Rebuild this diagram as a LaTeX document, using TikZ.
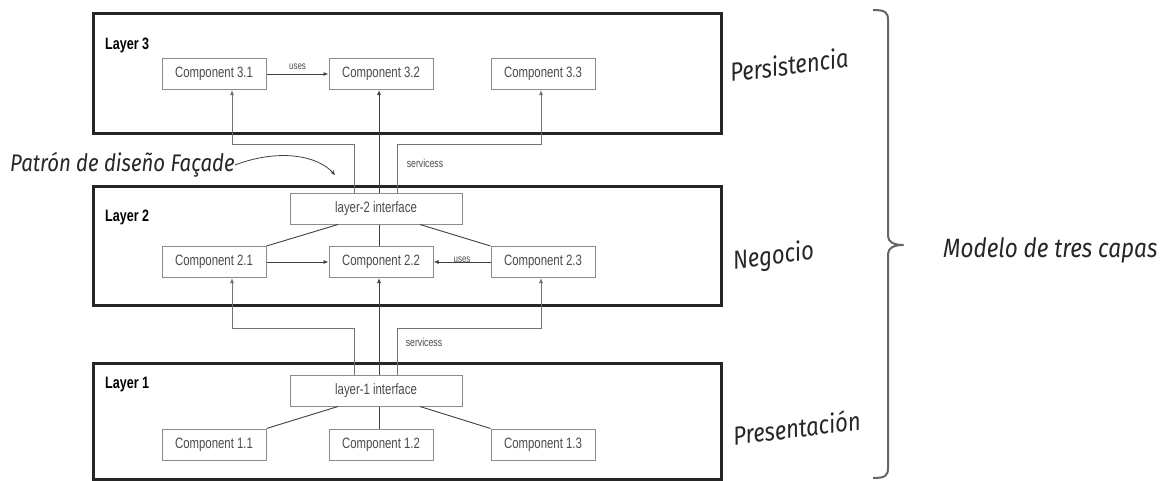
\documentclass[tikz,border=0pt]{standalone}
\usepackage{fontspec}
\setmainfont{Liberation Sans}
\newfontfamily\narrowfont[FakeStretch=0.76]{Liberation Sans}
\newfontfamily\handfont[FakeStretch=0.85]{Fira Sans}
\usetikzlibrary{arrows.meta}
\begin{document}
\begin{tikzpicture}[x=1pt,y=-1pt,
  layerbox/.style={draw=black!85, line width=3pt, inner sep=0pt},
  layername/.style={font=\narrowfont\bfseries\fontsize{16.5}{18}\selectfont, anchor=west, inner sep=0pt},
  comp/.style={draw=black!45, line width=1pt, fill=white, minimum width=104pt, minimum height=31pt,
    inner sep=0pt, text=black!70, font=\narrowfont\fontsize{15}{17}\selectfont},
  iface/.style={comp, minimum width=172pt},
  conn/.style={draw=black!75, line width=0.9pt},
  thinconn/.style={draw=black!55, line width=0.8pt},
  arr/.style={-{Latex[length=5pt,width=4pt]}},
  lbl/.style={font=\narrowfont\fontsize{11.5}{13}\selectfont, text=black!70, inner sep=1pt},
  hand/.style={font=\handfont\itshape\fontsize{26}{30}\selectfont, text=black!85, inner sep=0pt}
]
\useasboundingbox (0,0) rectangle (1168,480);
\fill[white] (0,0) rectangle (1168,480);

% layer frames
\node[layerbox, minimum width=628pt, minimum height=120pt] (L3) at (407,73) {};
\node[layerbox, minimum width=628pt, minimum height=119pt] (L2) at (407,245.5) {};
\node[layerbox, minimum width=628pt, minimum height=116pt] (L1) at (407,421) {};
\node[layername] (n3) at (105,45) {Layer 3};
\node[layername] (n2) at (105,217) {Layer 2};
\node[layername] (n1) at (105,385) {Layer 1};

% layer 3 components
\node[comp] (c31) at (214,74) {Component 3.1};
\node[comp] (c32) at (381,74) {Component 3.2};
\node[comp] (c33) at (543,74) {Component 3.3};

% layer 2
\node[iface] (i2) at (376,208.5) {layer-2 interface};
\node[comp] (c21) at (214,262) {Component 2.1};
\node[comp] (c22) at (381,262) {Component 2.2};
\node[comp] (c23) at (543,262) {Component 2.3};

% layer 1
\node[iface] (i1) at (376,390.5) {layer-1 interface};
\node[comp] (c11) at (214,444.5) {Component 1.1};
\node[comp] (c12) at (381,444.5) {Component 1.2};
\node[comp] (c13) at (543,444.5) {Component 1.3};

% junction points of the service branches
\coordinate (j3l) at (232,144);
\coordinate (j3r) at (541,144);
\coordinate (j2l) at (232,328);
\coordinate (j2r) at (541,328);

% layer 2 interface serving layer 3
\draw[thinconn, arr] ([xshift=-22pt]i2.north) |- (j3l) -- (j3l |- c31.south);
\draw[conn, arr] ([xshift=3pt]i2.north) -- ([xshift=-2pt]c32.south);
\draw[thinconn, arr] ([xshift=21pt]i2.north) |- (j3r) -- (j3r |- c33.south);
\node[lbl] (s3) at (425,163) {servicess};

% layer 1 interface serving layer 2
\draw[thinconn, arr] ([xshift=-22pt]i1.north) |- (j2l) -- (j2l |- c21.south);
\draw[conn, arr] ([xshift=3pt]i1.north) -- ([xshift=-2pt]c22.south);
\draw[thinconn, arr] ([xshift=21pt]i1.north) |- (j2r) -- (j2r |- c23.south);
\node[lbl] (s2) at (424,342) {servicess};

% uses relations
\draw[conn, arr] (c31) -- node[lbl, above=3pt, font=\narrowfont\fontsize{10.5}{12}\selectfont] {uses} (c32);
\draw[conn, arr] (c21) -- (c22);
\draw[conn, arr] (c23) -- node[lbl, above=-2pt, font=\narrowfont\fontsize{10.5}{12}\selectfont] {uses} (c22);

% interface to its own components
\draw[conn] ([xshift=-38pt]i2.south) -- (c21.north east);
\draw[conn] ([xshift=3pt]i2.south) -- ([xshift=-2pt]c22.north);
\draw[conn] ([xshift=44pt]i2.south) -- (c23.north west);
\draw[conn] ([xshift=-38pt]i1.south) -- (c11.north east);
\draw[conn] ([xshift=3pt]i1.south) -- ([xshift=-2pt]c12.north);
\draw[conn] ([xshift=44pt]i1.south) -- (c13.north west);

% hand annotations
\node[hand, anchor=west, font=\handfont\itshape\fontsize{24}{28}\selectfont] (fac) at (10,165) {Patrón de diseño Façade};
\coordinate (facend) at (335,175);
\draw[black!75, line width=0.8pt, -{Stealth[length=5pt,width=4pt]}] (fac.east) .. controls (280,148) and (318,156) .. (facend);

\node[hand, rotate=7, anchor=west] (per) at (730,72) {Persistencia};
\node[hand, rotate=7, anchor=west] (neg) at (733,262) {Negocio};
\node[hand, rotate=7, anchor=west] (pre) at (733,435) {Presentación};

% brace grouping the three layers
\coordinate (btop) at (873,10);
\coordinate (bbot) at (873,478);
\coordinate (btip) at (903,245);
\draw[black!60, line width=2pt, line join=round]
  (btop) .. controls (885,10) and (888,12) .. (888,20) -- (888,236)
  .. controls (888,242) and (894,245) .. (btip)
  .. controls (894,245) and (888,248) .. (888,254) -- (888,468)
  .. controls (888,476) and (885,478) .. (bbot);
\node[hand, anchor=west, font=\handfont\itshape\fontsize{26.5}{30}\selectfont] (mod) at (943,250) {Modelo de tres capas};
\end{tikzpicture}
\end{document}
